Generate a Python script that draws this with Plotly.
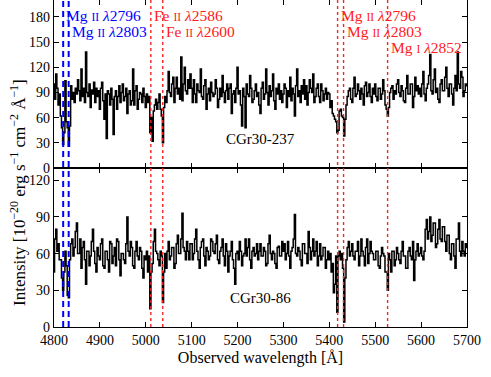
import plotly.graph_objects as go
from plotly.subplots import make_subplots

# spectra sampled every 2.5 A from 4800 to 5700
wl_start, wl_step = 4800, 2.5

flux_237 = [
    100, 82, 112, 95, 75, 88, 62, 48, 28, 42, 104, 55, 48, 26, 50, 98, 82, 90, 78, 95,
    88, 105, 92, 80, 118, 85, 95, 78, 138, 90, 85, 100, 72, 93, 88, 102, 78, 95, 85, 92,
    70, 95, 102, 80, 58, 88, 35, 92, 88, 75, 95, 82, 40, 85, 92, 70, 85, 98, 78, 90,
    100, 80, 85, 95, 65, 88, 92, 75, 80, 118, 75, 92, 98, 70, 82, 90, 88, 78, 95, 85,
    72, 88, 78, 85, 42, 60, 32, 68, 75, 82, 70, 78, 88, 70, 62, 30, 72, 85, 78, 92,
    115, 90, 85, 100, 108, 78, 95, 108, 88, 95, 82, 132, 80, 100, 120, 92, 88, 105, 95, 112,
    95, 78, 105, 88, 78, 100, 92, 90, 118, 85, 82, 98, 105, 70, 88, 95, 80, 102, 90, 85,
    88, 105, 95, 72, 82, 95, 85, 110, 90, 78, 92, 100, 82, 95, 100, 65, 88, 92, 78, 95,
    120, 88, 92, 75, 50, 95, 85, 48, 100, 88, 85, 110, 95, 78, 82, 92, 100, 85, 90, 75,
    65, 95, 102, 82, 88, 118, 90, 75, 98, 85, 92, 112, 80, 70, 95, 88, 100, 82, 92, 78,
    88, 100, 95, 72, 92, 85, 108, 80, 95, 88, 62, 98, 118, 85, 92, 78, 98, 88, 105, 82,
    98, 75, 90, 105, 95, 90, 112, 78, 85, 95, 100, 85, 78, 100, 92, 80, 88, 95, 82, 90,
    88, 72, 80, 65, 62, 58, 55, 42, 45, 68, 70, 62, 60, 38, 58, 75, 85, 92, 95, 82,
    78, 95, 108, 85, 88, 100, 92, 82, 95, 88, 75, 98, 102, 85, 90, 100, 85, 78, 95, 88,
    100, 85, 80, 95, 95, 82, 88, 105, 92, 75, 70, 62, 72, 90, 95, 98, 82, 92, 88, 100,
    105, 90, 85, 98, 92, 80, 78, 95, 110, 88, 88, 100, 100, 72, 85, 108, 92, 98, 88, 95,
    85, 100, 115, 88, 80, 95, 100, 110, 135, 92, 88, 105, 118, 90, 95, 82, 78, 100, 105, 92,
    92, 108, 120, 95, 85, 100, 100, 88, 75, 95, 110, 92, 138, 100, 95, 115, 108, 85, 92, 100,
    98,
]

flux_86 = [
    45, 72, 80, 62, 68, 55, 55, 40, 30, 45, 62, 50, 26, 24, 55, 68, 72, 58, 65, 78,
    85, 60, 60, 72, 48, 65, 70, 55, 35, 62, 62, 50, 58, 70, 80, 62, 52, 45, 65, 58,
    55, 68, 72, 50, 48, 62, 62, 55, 45, 70, 68, 52, 58, 65, 50, 72, 70, 55, 42, 60,
    60, 55, 52, 68, 90, 62, 58, 70, 65, 50, 48, 62, 70, 58, 55, 65, 62, 48, 40, 58,
    55, 62, 45, 58, 15, 45, 52, 70, 80, 62, 60, 55, 50, 62, 58, 20, 45, 60, 48, 62,
    70, 55, 58, 65, 65, 48, 52, 68, 75, 60, 60, 72, 93, 65, 62, 55, 70, 62, 55, 68,
    68, 55, 60, 72, 80, 62, 55, 48, 65, 70, 72, 58, 50, 65, 62, 55, 58, 72, 70, 62,
    60, 68, 75, 55, 52, 62, 65, 72, 58, 50, 68, 62, 45, 58, 62, 70, 55, 48, 35, 60,
    62, 55, 70, 62, 50, 58, 60, 72, 58, 65, 72, 55, 48, 62, 65, 58, 60, 68, 55, 62,
    68, 58, 58, 65, 62, 50, 52, 68, 75, 60, 55, 62, 60, 52, 48, 65, 66, 58, 58, 70,
    62, 68, 55, 60, 70, 58, 48, 62, 65, 72, 92, 60, 58, 65, 62, 55, 50, 68, 68, 60,
    60, 52, 78, 65, 55, 62, 72, 58, 62, 70, 50, 58, 68, 55, 58, 65, 65, 48, 55, 62,
    55, 60, 45, 52, 28, 35, 58, 12, 58, 62, 55, 60, 48, 4, 40, 55, 65, 70, 58, 62,
    68, 58, 55, 62, 62, 70, 50, 58, 72, 62, 58, 50, 65, 72, 52, 60, 70, 62, 60, 55,
    55, 62, 62, 50, 48, 58, 65, 60, 58, 45, 45, 30, 60, 55, 45, 62, 62, 50, 55, 65,
    60, 55, 52, 62, 70, 58, 58, 48, 48, 62, 65, 58, 55, 70, 38, 55, 62, 68, 58, 60,
    65, 58, 55, 62, 80, 88, 72, 78, 90, 70, 75, 85, 85, 65, 68, 80, 88, 72, 70, 82,
    82, 70, 62, 75, 75, 60, 55, 68, 68, 58, 48, 72, 72, 85, 62, 58, 70, 62, 58, 68,
    65,
]

wavelength = [wl_start + wl_step * i for i in range(len(flux_237))]

# absorption lines at the two redshifts
SC = "<span style='font-size:11.5px'>{}</span>"
blue_lines = [4820, 4832]
blue_labels = ["Mg " + SC.format("II") + " <i>λ</i>2796",
               "Mg " + SC.format("II") + " <i>λ</i>2803"]
blue_label_y = [181, 163]
red_lines = [5011, 5037, 5418, 5431, 5527]
red_labels = ["Fe " + SC.format("II") + " <i>λ</i>2586",
              "Fe " + SC.format("II") + " <i>λ</i>2600",
              "Mg " + SC.format("II") + " <i>λ</i>2796",
              "Mg " + SC.format("II") + " <i>λ</i>2803",
              "Mg " + SC.format("I") + " <i>λ</i>2852"]
red_label_y = [181, 163, 181, 163, 143]

FONT = "Liberation Serif, Times New Roman, serif"
SPLIT = 0.4862

fig = make_subplots(rows=2, cols=1, shared_xaxes=True, vertical_spacing=0)

fig.add_trace(go.Scatter(x=wavelength, y=flux_237, mode="lines",
                         line=dict(color="black", width=1.5, shape="hvh"),
                         showlegend=False), row=1, col=1)
fig.add_trace(go.Scatter(x=wavelength, y=flux_86, mode="lines",
                         line=dict(color="black", width=1.5, shape="hvh"),
                         showlegend=False), row=2, col=1)

for w in blue_lines:
    fig.add_shape(type="line", xref="x", yref="paper", x0=w, x1=w, y0=0, y1=1,
                  line=dict(color="#0000ff", width=2, dash="6px,4px"))
for w in red_lines:
    fig.add_shape(type="line", xref="x", yref="paper", x0=w, x1=w, y0=0, y1=1,
                  line=dict(color="#ff2020", width=1.4, dash="dot"))

for w, lab, yy in zip(blue_lines, blue_labels, blue_label_y):
    fig.add_annotation(x=w, y=yy, xref="x", yref="y", text=lab, showarrow=False,
                       xanchor="left", yanchor="middle", xshift=1,
                       font=dict(family=FONT, size=15.5, color="#0000ff"))
for w, lab, yy in zip(red_lines, red_labels, red_label_y):
    fig.add_annotation(x=w, y=yy, xref="x", yref="y", text=lab, showarrow=False,
                       xanchor="left", yanchor="middle", xshift=1,
                       font=dict(family=FONT, size=15.5, color="#ff2020"))

fig.add_annotation(x=5250, y=35, xref="x", yref="y", text="CGr30-237",
                   showarrow=False, font=dict(family=FONT, size=15, color="black"))
fig.add_annotation(x=5250, y=24, xref="x2", yref="y2", text="CGr30-86",
                   showarrow=False, font=dict(family=FONT, size=15, color="black"))

fig.add_annotation(x=-0.087, y=0.41, xref="paper", yref="paper", textangle=-90,
                   text="Intensity [10<sup>−20</sup> erg s<sup>−1</sup> cm<sup>−2</sup> Å<sup>−1</sup>]",
                   showarrow=False, xanchor="center", yanchor="middle",
                   font=dict(family=FONT, size=17, color="black"))

axis_style = dict(showline=True, linecolor="black", linewidth=1.3, mirror="ticks",
                  ticks="inside", ticklen=5, tickwidth=1, tickcolor="black",
                  showgrid=False, zeroline=False,
                  tickfont=dict(family=FONT, size=14, color="black"))

fig.update_xaxes(range=[4800, 5700], dtick=100, **axis_style)
fig.update_xaxes(showticklabels=False, row=1, col=1)
fig.update_xaxes(title=dict(text="Observed wavelength [Å]", standoff=4,
                            font=dict(family=FONT, size=16, color="black")),
                 row=2, col=1)
fig.update_yaxes(**axis_style)
fig.update_yaxes(range=[0, 200], tickvals=[0, 30, 60, 90, 120, 150, 180],
                 domain=[SPLIT, 1], row=1, col=1)
fig.update_yaxes(range=[0, 130], tickvals=[0, 30, 60, 90, 120],
                 domain=[0, SPLIT], row=2, col=1)

fig.update_layout(width=491, height=377,
                  margin=dict(l=54, r=24, t=0, b=50),
                  plot_bgcolor="white", paper_bgcolor="white",
                  font=dict(family=FONT, color="black"))

# page body has a default margin; remove it so the figure sits at the corner
fig.write_html("out.html", config={"displayModeBar": False},
               post_script="document.body.style.margin='0px';")
